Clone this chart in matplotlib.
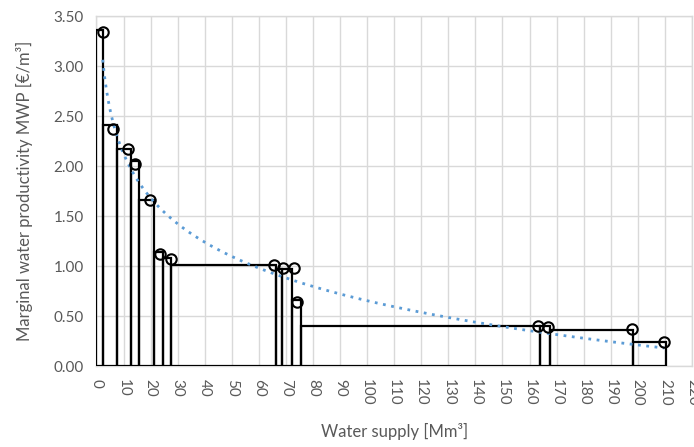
import numpy as np
import matplotlib
matplotlib.use("Agg")
import matplotlib.pyplot as plt

plt.rcParams['font.family'] = ['Lato', 'DejaVu Sans']

# bar edges along the supply axis (Mm3) and the MWP of each block (EUR/m3)
edges = [0, 2.4, 7.5, 12.6, 15.7, 21.3, 24.5, 27.7, 66.2, 68.7, 72.3, 75.4,
         163.7, 167.4, 198.2, 210.4]
heights = [3.36, 2.41, 2.17, 2.05, 1.66, 1.14, 1.08, 1.01, 0.97, 0.97, 0.66,
           0.40, 0.40, 0.36, 0.24]

# scatter points (circles)
pt_x = [2.3, 6.2, 11.5, 14.1, 19.9, 23.5, 27.4, 65.5, 68.8, 72.9, 74.2,
        163.3, 166.8, 197.9, 209.8]
pt_y = [3.34, 2.37, 2.17, 2.02, 1.66, 1.12, 1.07, 1.01, 0.98, 0.98, 0.64,
        0.40, 0.39, 0.37, 0.24]

xticks = list(range(0, 230, 10))
yticks = [0, 0.5, 1.0, 1.5, 2.0, 2.5, 3.0, 3.5]

txt = '#595959'
grid = '#D9D9D9'

fig = plt.figure(figsize=(6.94, 4.47), dpi=100)
ax = fig.add_axes([0.139, 0.181, 0.858, 0.783])

left = np.array(edges[:-1])
widths = np.diff(edges)
ax.bar(left, heights, width=widths, align='edge', fill=False,
       edgecolor='black', linewidth=1.6, zorder=3)

# log trendline fitted to the points (like Excel)
b, a = np.polyfit(np.log(pt_x), pt_y, 1)
tx = np.linspace(min(pt_x), max(pt_x), 300)
ax.plot(tx, a + b * np.log(tx), color='#5B9BD5', linestyle=(0, (1, 2)),
        linewidth=2, zorder=4)

ax.plot(pt_x, pt_y, 'o', mfc='none', mec='black', ms=7.5, mew=1.5, zorder=5)

ax.set_xlim(0, 220)
ax.set_ylim(0, 3.5)
ax.set_xticks(xticks)
ax.set_xticklabels([str(v) for v in xticks], rotation=270, fontsize=11, color=txt)
ax.set_yticks(yticks)
ax.set_yticklabels(['%.2f' % v for v in yticks], fontsize=11, color=txt)
ax.tick_params(length=0, pad=9)
ax.grid(True, color=grid, linewidth=1, zorder=0)
ax.set_axisbelow(True)
for s in ax.spines.values():
    s.set_color(grid)
    s.set_linewidth(1)

ax.set_xlabel('Water supply [Mm³]', fontsize=12, color=txt, labelpad=13)
ax.set_ylabel('Marginal water productivity MWP [€/m³]', fontsize=12, color=txt,
              labelpad=15)

fig.savefig('out.png', dpi=100)
